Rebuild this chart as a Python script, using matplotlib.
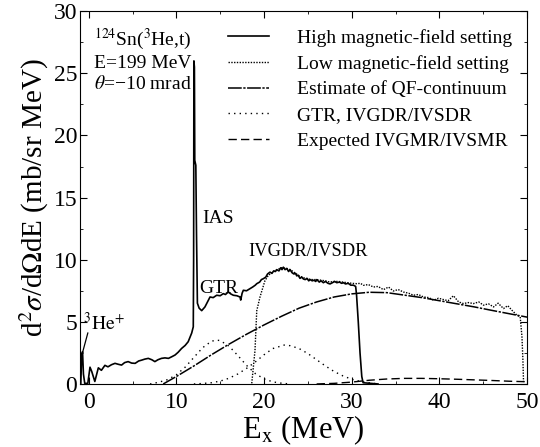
import matplotlib
matplotlib.use("Agg")
import matplotlib.pyplot as plt
from matplotlib.ticker import MultipleLocator

plt.rcParams["font.family"] = ["Liberation Serif", "DejaVu Serif"]
plt.rcParams["mathtext.fontset"] = "stix"

# high magnetic-field setting spectrum
hf_x = [-0.9, -0.8, -0.7, -0.6, -0.45, -0.1, 0.15, 0.35, 0.7, 1.1, 1.45, 1.85, 2.2, 2.6, 3.0,
        3.4, 3.75, 4.1, 4.5, 4.9, 5.3, 5.7, 6.05, 6.4, 6.8, 7.2, 7.55, 7.9, 8.3, 8.7,
        9.1, 9.5, 9.85, 10.2, 10.6, 11.0, 11.35, 11.75, 11.93, 11.97, 12.0, 12.06, 12.1, 12.22, 12.3,
        12.4, 12.6, 12.89, 13.26, 13.55, 13.84, 14.2, 14.6, 15.0, 15.35, 15.6, 15.92, 16.2, 16.5, 16.9,
        17.26, 17.34, 17.5, 17.64, 18.0, 18.4, 18.7, 19.0, 19.17, 19.5, 19.7, 19.92, 20.2, 20.4, 20.68,
        20.9, 21.1, 21.3, 21.45, 21.7, 21.9, 22.05, 22.2, 22.4, 22.6, 22.8, 22.97, 23.2, 23.4, 23.6,
        23.73, 23.9, 24.1, 24.3, 24.49, 24.7, 24.9, 25.1, 25.25, 25.5, 25.7, 25.9, 26.02, 26.3, 26.5,
        26.77, 27.0, 27.3, 27.53, 27.8, 28.05, 28.3, 28.6, 28.85, 29.05, 29.3, 29.6, 29.9, 30.2, 30.45,
        30.55, 30.75, 30.95, 31.15, 31.3, 33.0]
hf_y = [0.0, 2.3, 2.6, 0.8, 0.05, 0.05, 1.35, 1.0, 0.2, 1.3, 1.1, 1.5, 1.38, 1.55, 1.66,
        1.58, 1.52, 1.72, 1.8, 1.68, 1.66, 1.85, 1.92, 2.0, 2.06, 1.95, 1.8, 1.95, 2.06, 2.1,
        2.06, 2.2, 2.33, 2.55, 2.86, 3.1, 3.4, 4.1, 4.6, 10.0, 26.0, 25.5, 18.0, 17.6, 12.0,
        6.5, 6.1, 5.9, 6.2, 6.6, 7.0, 6.95, 7.14, 7.1, 7.27, 7.2, 7.4, 7.25, 7.14, 7.1,
        7.0, 6.75, 7.3, 7.54, 7.5, 7.67, 7.8, 7.95, 8.07, 8.2, 8.4, 8.47, 8.6, 8.85, 9.0,
        8.9, 9.1, 9.05, 9.2, 9.1, 9.35, 9.2, 9.4, 9.2, 9.3, 9.05, 9.2, 8.95, 8.85, 8.9,
        8.7, 8.75, 8.5, 8.6, 8.45, 8.4, 8.5, 8.3, 8.4, 8.3, 8.35, 8.25, 8.4, 8.2, 8.3,
        8.15, 8.25, 8.1, 8.05, 8.15, 8.25, 8.15, 8.2, 8.1, 8.15, 8.05, 8.1, 7.95, 7.95, 7.85,
        7.2, 5.0, 2.5, 0.6, 0.1, 0.0]

# low magnetic-field setting spectrum
lf_x = [18.6, 18.97, 19.17, 19.54, 20.1, 20.5, 21.0, 21.5, 22.0, 22.5, 23.0, 23.5, 24.0, 24.5, 25.0,
        25.5, 26.0, 26.5, 27.0, 27.5, 28.0, 28.5, 29.0, 29.5, 30.0, 30.58, 31.0, 31.34, 31.9, 32.48,
        33.0, 33.62, 34.2, 34.76, 35.3, 35.9, 36.5, 37.04, 37.6, 38.19, 38.8, 39.33, 39.9, 40.47, 41.0,
        41.6, 42.2, 42.75, 43.3, 43.89, 44.5, 45.03, 45.6, 46.18, 46.7, 47.32, 47.8, 48.28, 48.85, 49.22,
        49.42, 49.53, 49.6]
lf_y = [0.05, 2.7, 5.9, 7.0, 8.3, 8.75, 9.0, 9.2, 9.35, 9.3, 9.2, 8.95, 8.7, 8.55, 8.45,
        8.4, 8.4, 8.35, 8.3, 8.2, 8.25, 8.25, 8.2, 8.15, 8.1, 8.07, 8.1, 7.94, 8.0, 7.8,
        7.85, 7.59, 7.8, 7.48, 7.6, 7.4, 7.3, 7.14, 7.2, 7.0, 6.95, 6.74, 6.9, 6.79, 6.7,
        7.1, 6.6, 6.47, 6.55, 6.47, 6.6, 6.34, 6.45, 6.2, 6.5, 6.07, 6.3, 5.93, 5.53, 5.4,
        3.8, 1.9, 0.15]

# quasi-free continuum estimate
qf_x = [8.5, 10, 12, 14, 16, 18, 20, 22, 24, 26, 28, 30, 32, 34, 36, 38, 40, 42, 44, 46, 48, 50]
qf_y = [0.0, 0.6, 1.45, 2.35, 3.2, 4.0, 4.75, 5.45, 6.1, 6.6, 7.0, 7.25, 7.38, 7.35, 7.15,
        6.95, 6.7, 6.45, 6.2, 5.92, 5.65, 5.38]

# GTR and IVGDR/IVSDR components
gtr_x = [7, 8, 9, 10, 11, 12, 13, 14, 14.6, 15, 16, 17, 18, 19, 20, 21, 22, 23]
gtr_y = [0.0, 0.14, 0.35, 0.74, 1.35, 2.14, 2.92, 3.44, 3.53, 3.49, 3.05, 2.3, 1.5, 0.84,
         0.41, 0.17, 0.06, 0.0]
gdr_x = [12, 13, 14, 15, 16, 17, 18, 19, 20, 21, 22.3, 23, 24, 25, 26, 27, 28, 29, 30, 31, 32, 33]
gdr_y = [0.0, 0.04, 0.1, 0.23, 0.46, 0.8, 1.25, 1.77, 2.35, 2.85, 3.13, 3.08, 2.85, 2.45,
         1.95, 1.45, 1.0, 0.65, 0.38, 0.2, 0.1, 0.0]

# expected IVGMR/IVSMR
gmr_x = [26, 28, 30, 32, 34, 36, 38, 40, 42, 44, 46, 48, 50]
gmr_y = [0.0, 0.05, 0.15, 0.3, 0.4, 0.45, 0.45, 0.42, 0.38, 0.33, 0.28, 0.22, 0.18]

fig = plt.figure(figsize=(5.4, 4.47), dpi=100)
ax = fig.add_axes([0.148, 0.141, 0.828, 0.834])

ax.plot(hf_x, hf_y, color="black", lw=1.2, label="High magnetic-field setting")
ax.plot(lf_x, lf_y, color="black", lw=1.0, ls=(0, (1, 1)), label="Low magnetic-field setting")
ax.plot(qf_x, qf_y, color="black", lw=1.1, ls=(0, (9, 1, 1.5, 1)), label="Estimate of QF-continuum")
ax.plot(gtr_x, gtr_y, color="black", lw=1.0, ls=(0, (1, 3)), label="GTR, IVGDR/IVSDR")
ax.plot(gdr_x, gdr_y, color="black", lw=1.0, ls=(0, (1, 3)))
ax.plot(gmr_x, gmr_y, color="black", lw=1.0, ls=(0, (6, 3)), label="Expected IVGMR/IVSMR")

ax.set_xlim(-1, 50)
ax.set_ylim(0, 30)
ax.xaxis.set_major_locator(MultipleLocator(10))
ax.xaxis.set_minor_locator(MultipleLocator(5))
ax.yaxis.set_major_locator(MultipleLocator(5))
ax.yaxis.set_minor_locator(MultipleLocator(2.5))
ax.tick_params(which="both", direction="in", top=True, right=True, labelsize=17)
ax.tick_params(which="major", length=5, pad=6)
ax.tick_params(axis="y", which="major", pad=2)
ax.tick_params(which="minor", length=2.5)

ax.set_xlabel(r"E$_{\mathrm{x}}$ (MeV)", fontsize=22, labelpad=0)
ax.set_ylabel(r"d$^2\sigma$/d$\Omega$dE (mb/sr MeV)", fontsize=21, labelpad=2)

ax.text(0.6, 27.7, r"$^{124}$Sn($^3$He,t)", fontsize=14, va="center")
ax.text(0.6, 25.8, "E=199 MeV", fontsize=14, va="center")
ax.text(0.6, 24.1, r"$\theta$=−10 mrad", fontsize=14, va="center")
ax.text(12.9, 13.3, "IAS", fontsize=14, va="center")
ax.text(12.6, 7.7, "GTR", fontsize=14, va="center")
ax.text(18.2, 10.7, "IVGDR/IVSDR", fontsize=13.3, va="center")
ax.text(-0.7, 4.9, r"$^3\mathrm{He}^{+}$", fontsize=14, va="center")
ax.plot([-0.75, -0.1], [2.4, 4.1], color="black", lw=0.9)

ax.legend(loc="upper left", bbox_to_anchor=(0.331, 0.953), frameon=False, fontsize=14,
          handlelength=2.1, handletextpad=1.45, labelspacing=0.42, borderpad=0, borderaxespad=0)

fig.savefig("out.png", dpi=100)
